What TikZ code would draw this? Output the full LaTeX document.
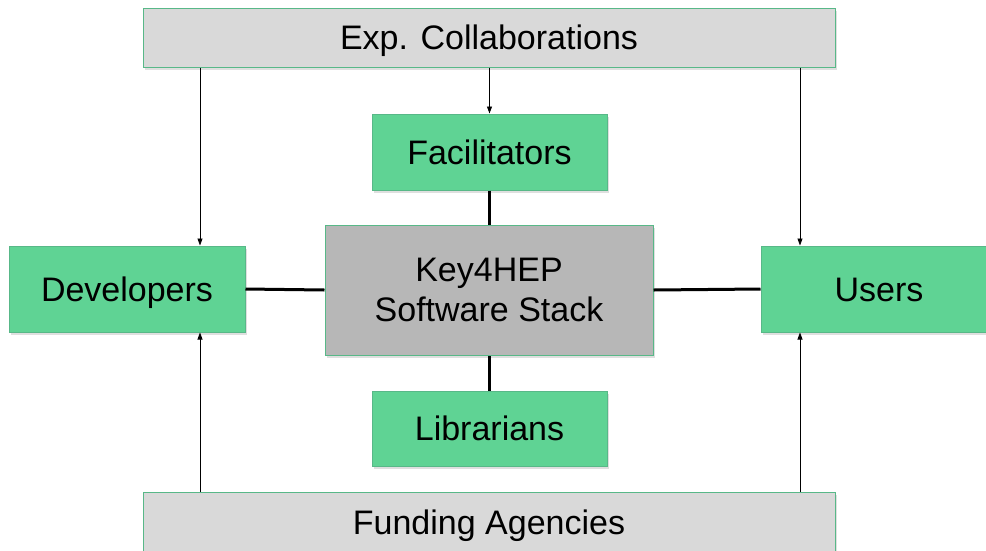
\documentclass[tikz,border=0pt]{standalone}
\usepackage{fontspec}
\setmainfont{Liberation Sans}
\usetikzlibrary{shadows,arrows.meta}
\definecolor{boxgreen}{HTML}{5FD394}
\definecolor{greenedge}{HTML}{58B888}
\definecolor{lightgrey}{HTML}{D9D9D9}
\definecolor{midgrey}{HTML}{B7B7B7}
\tikzset{
  base/.style={draw=greenedge, line width=1pt, inner sep=0pt, align=center,
    font=\fontsize{34}{39}\selectfont,
    drop shadow={opacity=0.25, shadow xshift=1.5pt, shadow yshift=-2.5pt}},
  oneline/.style={text height=24pt, text depth=0pt},
  role/.style={base, oneline, fill=boxgreen},
  party/.style={base, oneline, fill=lightgrey},
  stack/.style={base, fill=midgrey},
  arr/.style={line width=0.8pt, -{Triangle[length=7pt,width=5pt]}},
  link/.style={line width=3pt}
}
\begin{document}
\begin{tikzpicture}[x=1pt,y=-1pt]
\clip (0,0) rectangle (986,550);
\useasboundingbox (0,0) rectangle (986,550);
\fill[white] (0,0) rectangle (986,550);
\node[party, minimum width=692pt, minimum height=59pt] (exp) at (489,37.5) {Exp. Collaborations};
\node[role, minimum width=235pt, minimum height=76pt] (fac) at (489.5,152) {Facilitators};
\node[stack, minimum width=328pt, minimum height=130pt] (key) at (489,290) {Key4HEP\\[1pt]Software Stack};
\node[role, minimum width=236pt, minimum height=86pt] (dev) at (127,289) {Developers};
\node[role, minimum width=236pt, minimum height=86pt] (users) at (879,289) {Users};
\node[role, minimum width=235pt, minimum height=75pt] (lib) at (489.5,428.5) {Librarians};
\node[party, minimum width=692pt, minimum height=60pt] (fund) at (489,522) {Funding Agencies};
% thick links
\draw[link] (fac.south) -- (fac.south |- key.north);
\draw[link] (lib.north) -- (lib.north |- key.south);
\draw[link] (dev.east) -- (key.west);
\draw[link] (key.east) -- (users.west);
% arrows from collaborations
\draw[arr] ([xshift=73pt]dev.north |- exp.south) -- ([xshift=73pt]dev.north);
\draw[arr] (fac.north |- exp.south) -- (fac.north);
\draw[arr] ([xshift=-79pt]users.north |- exp.south) -- ([xshift=-79pt]users.north);
% arrows from funding
\draw[arr] ([xshift=73pt]dev.south |- fund.north) -- ([xshift=73pt]dev.south);
\draw[arr] ([xshift=-79pt]users.south |- fund.north) -- ([xshift=-79pt]users.south);
\end{tikzpicture}
\end{document}
